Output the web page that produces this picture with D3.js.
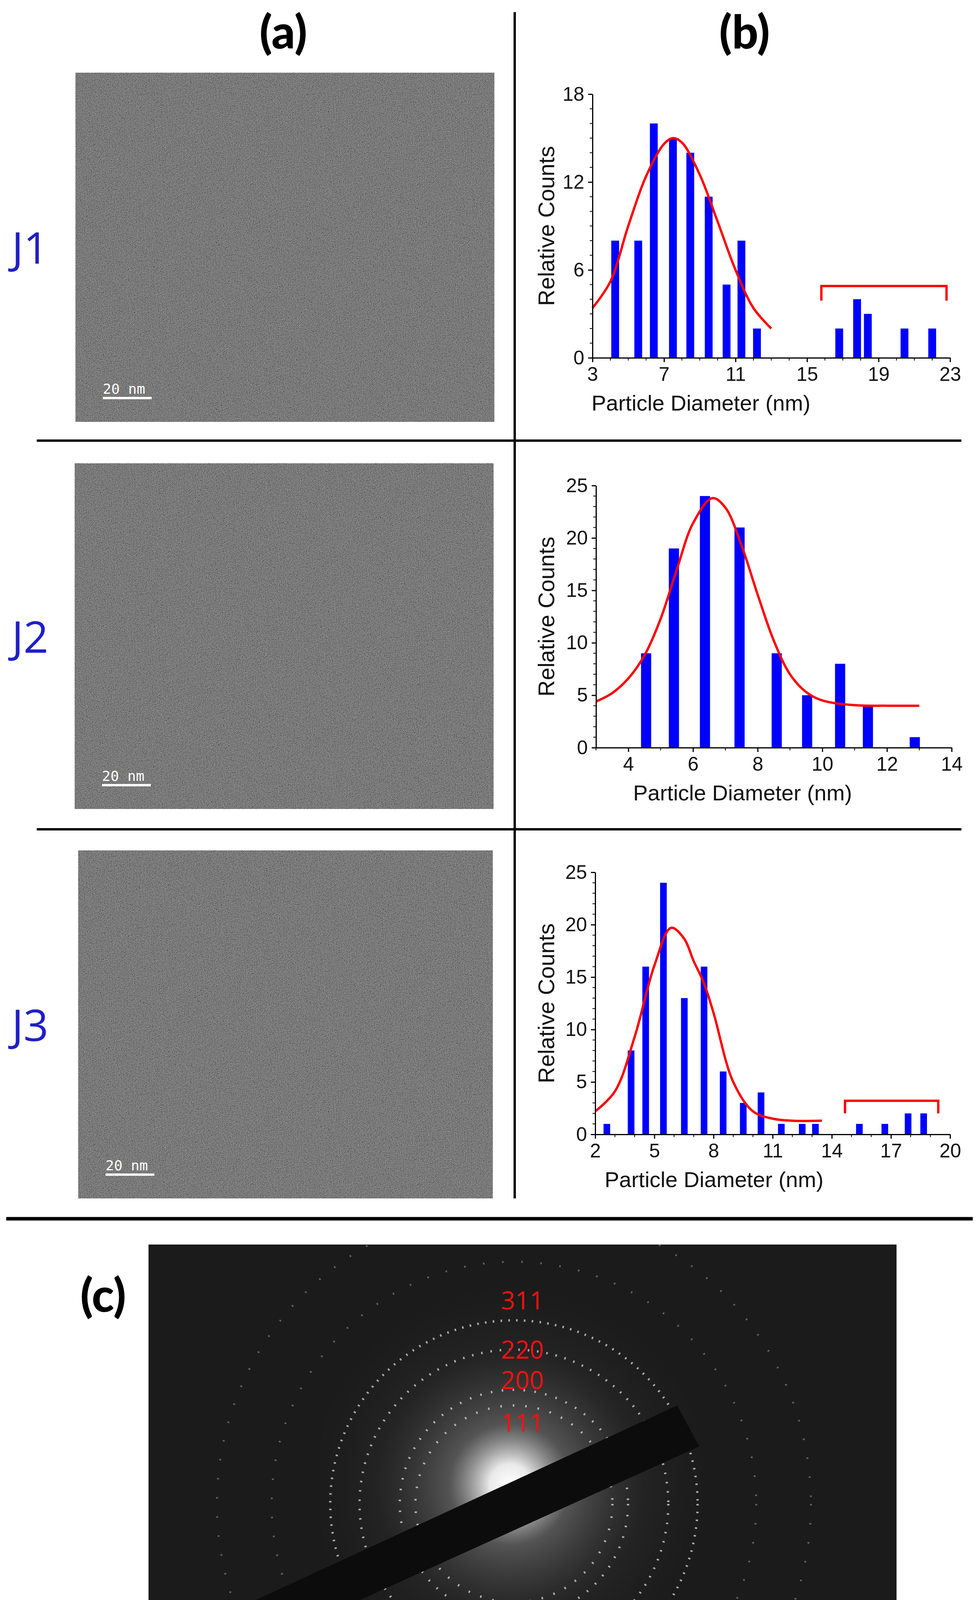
<!DOCTYPE html>
<html><head><meta charset="utf-8">
<script src="https://cdn.jsdelivr.net/npm/d3@7"></script>
<style>html,body{margin:0;background:#fff}</style>
</head><body>
<script>
// ---------- data ----------
const j1X = [4.27,5.56,6.43,7.5,8.47,9.5,10.5,11.33,12.2,16.8,17.8,18.4,20.45,22.0];
const j1Y = [8,8,16,15,14,11,5,8,2,2,4,3,2,2];
const j1FitX = [3,4,5,6,7,7.5,8,9,10,11,12,13];
const j1FitY = [3.4,5.2,9.0,12.4,14.6,15,14.7,12.5,9.3,6.0,3.4,2.0];
const j1Bracket = [15.8,22.8,4.9,3.9];
const j1XTicks = [3,7,11,15,19,23];
const j1YTicks = [0,6,12,18];

const j2X = [4.55,5.41,6.37,7.44,8.59,9.53,10.55,11.41,12.86];
const j2Y = [9,19,24,21,9,5,8,4,1];
const j2FitX = [3,3.5,4,4.5,5,5.5,6,6.6,7,7.5,8,8.5,9,9.5,10,11,12,13];
const j2FitY = [4.4,5.2,6.6,8.8,12.3,17.0,21.4,23.8,22.9,19.3,14.6,10.2,7.0,5.3,4.5,4.05,4,4];
const j2XTicks = [4,6,8,10,12,14];
const j2YTicks = [0,5,10,15,20,25];

const j3X = [2.59,3.82,4.56,5.46,6.52,7.52,8.49,9.51,10.41,11.44,12.5,13.17,15.4,16.69,17.87,18.66];
const j3Y = [1,8,16,24,13,16,6,3,4,1,1,1,1,1,2,2];
const j3FitX = [2,3,4,5,5.85,6.5,7,7.5,8,9,10,11,12,13.5];
const j3FitY = [2.2,4.1,9.3,16.1,19.7,18.7,16.5,14.5,11.6,5.0,2.2,1.5,1.3,1.3];
const j3Bracket = [14.67,19.4,3.2,2.0];
const j3XTicks = [2,5,8,11,14,17,20];
const j3YTicks = [0,5,10,15,20,25];

const sampleLabels = ["J1","J2","J3"];
const panelLabels = ["(a)","(b)","(c)"];
const ringLabels = ["311","220","200","111"];

// ---------- svg ----------
const W=2505,H=4485;
const svg=d3.select("body").append("svg").attr("width",W).attr("height",H);
svg.append("rect").attr("width",W).attr("height",H).attr("fill","#fff");
const defs=svg.append("defs");
const f=defs.append("filter").attr("id","noise").attr("x",0).attr("y",0).attr("width","100%").attr("height","100%");
f.append("feTurbulence").attr("type","fractalNoise").attr("baseFrequency",0.6).attr("numOctaves",2).attr("seed",3).attr("result","n");
f.append("feColorMatrix").attr("in","n").attr("type","matrix")
 .attr("values","0.33 0.33 0.33 0 0  0.33 0.33 0.33 0 0  0.33 0.33 0.33 0 0  0 0 0 0 1").attr("result","g");
f.append("feComposite").attr("in","SourceGraphic").attr("in2","g").attr("operator","arithmetic")
 .attr("k1",0).attr("k2",1).attr("k3",0.9).attr("k4",-0.45);
const rg=defs.append("radialGradient").attr("id","glow");
rg.append("stop").attr("offset","0").attr("stop-color","#fff").attr("stop-opacity",1);
rg.append("stop").attr("offset","0.1").attr("stop-color","#f4f4f4").attr("stop-opacity",0.95);
rg.append("stop").attr("offset","0.3").attr("stop-color","#999").attr("stop-opacity",0.45);
rg.append("stop").attr("offset","0.65").attr("stop-color","#555").attr("stop-opacity",0.15);
rg.append("stop").attr("offset","1").attr("stop-color","#333").attr("stop-opacity",0);

// separators
svg.append("line").attr("x1",1317).attr("x2",1317).attr("y1",31).attr("y2",3068).attr("stroke","#000").attr("stroke-width",6);
[1128,2123].forEach(y=>svg.append("line").attr("x1",94).attr("x2",2460).attr("y1",y).attr("y2",y).attr("stroke","#000").attr("stroke-width",6));
svg.append("line").attr("x1",16).attr("x2",2489).attr("y1",3120).attr("y2",3120).attr("stroke","#000").attr("stroke-width",9);

// panel labels
const pl=[[725,124],[1905,124],[264,3358]];
panelLabels.forEach((t,i)=>svg.append("text").attr("x",pl[i][0]).attr("y",pl[i][1]).attr("text-anchor","middle")
  .attr("font-family","Lato, 'Open Sans', sans-serif").attr("font-weight",900).attr("font-size",118).attr("fill","#000").text(t));

// TEM images
const tem=[[193,186,1265,1080],[191,1186,1263,2071],[200,2177,1261,3068]];
tem.forEach((r,i)=>{
  const g=svg.append("g");
  g.append("rect").attr("x",r[0]).attr("y",r[1]).attr("width",r[2]-r[0]).attr("height",r[3]-r[1]).attr("fill","#7c7c7c").attr("filter","url(#noise)");
  g.append("text").attr("x",r[0]+70).attr("y",r[3]-72).attr("font-family","'DejaVu Sans Mono', monospace").attr("font-size",36).attr("fill","#fff").text("20 nm");
  g.append("rect").attr("x",r[0]+70).attr("y",r[3]-64).attr("width",125).attr("height",6).attr("fill","#fff");
  svg.append("text").attr("x",30).attr("y",(r[1]+r[3])/2+42).attr("text-anchor","start")
   .attr("font-family","'Open Sans', Lato, sans-serif").attr("font-size",112).attr("fill","#1f1fc8").text(sampleLabels[i]);
});

// histograms
function hist(cfg){
  const x=d3.scaleLinear().domain(cfg.xd).range([cfg.x0,cfg.x1]);
  const y=d3.scaleLinear().domain(cfg.yd).range([cfg.y0,cfg.y1]);
  const g=svg.append("g");
  g.selectAll("rect.b").data(cfg.bx).join("rect")
   .attr("x",d=>x(d)-cfg.bw/2).attr("width",cfg.bw)
   .attr("y",(d,i)=>y(cfg.by[i])).attr("height",(d,i)=>y(0)-y(cfg.by[i])).attr("fill","#0000ff");
  const ln=d3.line().x((d,i)=>x(cfg.fx[i])).y(d=>y(d)).curve(d3.curveCatmullRom);
  g.append("path").attr("d",ln(cfg.fy)).attr("fill","none").attr("stroke","#ff0000").attr("stroke-width",6);
  if(cfg.br){const b=cfg.br;
    g.append("path").attr("d",`M${x(b[0])},${y(b[3])}V${y(b[2])}H${x(b[1])}V${y(b[3])}`)
     .attr("fill","none").attr("stroke","#ff0000").attr("stroke-width",6);}
  const font="'Liberation Sans', Arial, sans-serif";
  const xa=g.append("g").attr("transform",`translate(0,${cfg.y0})`)
   .call(d3.axisBottom(x).tickValues(cfg.xt).tickSize(11).tickSizeOuter(0).tickPadding(12));
  const ya=g.append("g").attr("transform",`translate(${cfg.x0},0)`)
   .call(d3.axisLeft(y).tickValues(cfg.yt).tickSize(11).tickSizeOuter(0).tickPadding(10));
  [xa,ya].forEach(a=>{a.select(".domain").attr("stroke-width",3);a.selectAll(".tick line").attr("stroke-width",3);
    a.selectAll("text").attr("font-family",font).attr("font-size",50).attr("fill","#111");});
  const mx=d3.range(Math.ceil(cfg.xd[0]),cfg.xd[1]+0.01,1).filter(v=>!cfg.xt.includes(v));
  g.selectAll("line.mx").data(mx).join("line").attr("x1",d=>x(d)).attr("x2",d=>x(d)).attr("y1",cfg.y0).attr("y2",cfg.y0+7).attr("stroke","#000").attr("stroke-width",2);
  const my=d3.range(cfg.yd[0],cfg.yd[1],1).filter(v=>!cfg.yt.includes(v));
  g.selectAll("line.my").data(my).join("line").attr("y1",d=>y(d)).attr("y2",d=>y(d)).attr("x1",cfg.x0).attr("x2",cfg.x0-7).attr("stroke","#000").attr("stroke-width",2);
  g.append("text").attr("x",(cfg.x0+cfg.x1)/2-cfg.tOff).attr("y",cfg.y0+135).attr("text-anchor","middle")
   .attr("font-family",font).attr("font-size",56).attr("fill","#111").text("Particle Diameter (nm)");
  g.append("text").attr("transform",`translate(1418,${(cfg.y0+cfg.y1)/2}) rotate(-90)`).attr("text-anchor","middle")
   .attr("font-family",font).attr("font-size",58).attr("fill","#111").text("Relative Counts");
}
hist({xd:[3,23],yd:[0,18],x0:1516,x1:2431,y0:916,y1:241,bx:j1X,by:j1Y,bw:20,fx:j1FitX,fy:j1FitY,br:j1Bracket,xt:j1XTicks,yt:j1YTicks,tOff:180});
hist({xd:[3,14],yd:[0,25],x0:1525,x1:2435,y0:1914,y1:1243,bx:j2X,by:j2Y,bw:26,fx:j2FitX,fy:j2FitY,br:null,xt:j2XTicks,yt:j2YTicks,tOff:80});
hist({xd:[2,20],yd:[0,25],x0:1523,x1:2431,y0:2904,y1:2233,bx:j3X,by:j3Y,bw:17,fx:j3FitX,fy:j3FitY,br:j3Bracket,xt:j3XTicks,yt:j3YTicks,tOff:150});

// SAED pattern
const sx0=380,sy0=3186,sx1=2294,sy1=4471;
const sg=svg.append("g");
sg.append("defs").append("clipPath").attr("id","sc").append("rect").attr("x",sx0).attr("y",sy0).attr("width",sx1-sx0).attr("height",sy1-sy0);
const sc=sg.append("g").attr("clip-path","url(#sc)");
sc.append("rect").attr("x",sx0).attr("y",sy0).attr("width",sx1-sx0).attr("height",sy1-sy0).attr("fill","#1b1b1b");
sc.append("circle").attr("cx",1305).attr("cy",3800).attr("r",520).attr("fill","url(#glow)");
const ringR=[470,395,292,252];
const cx=1315,cy=3850;
ringR.forEach((r,i)=>sc.append("circle").attr("cx",cx).attr("cy",cy).attr("r",r).attr("fill","none")
  .attr("stroke","#e8e8e8").attr("stroke-opacity",0.7).attr("stroke-width",6).attr("stroke-dasharray",`4 ${16+i*4}`));
[620,760].forEach(r=>sc.append("circle").attr("cx",cx).attr("cy",cy).attr("r",r).attr("fill","none")
  .attr("stroke","#ccc").attr("stroke-opacity",0.4).attr("stroke-width",5).attr("stroke-dasharray","4 45"));
sc.append("polygon").attr("points",`1733,3598 1789,3703 ${sx0-20},4350 ${sx0-20},4232`).attr("fill","#0c0c0c");
const ly=[3352,3478,3556,3665];
ringLabels.forEach((t,i)=>sc.append("text").attr("x",1337).attr("y",ly[i]).attr("text-anchor","middle")
  .attr("font-family","'Liberation Sans Narrow', 'Open Sans', sans-serif").attr("font-size",64).attr("fill","#ff1010").text(t));
sc.append("text").attr("x",460).attr("y",4365).attr("font-family","'DejaVu Sans Mono', monospace").attr("font-size",56).attr("fill","#fff").text("5 1/nm");
sc.append("rect").attr("x",460).attr("y",4383).attr("width",305).attr("height",8).attr("fill","#fff");
</script>
</body></html>
